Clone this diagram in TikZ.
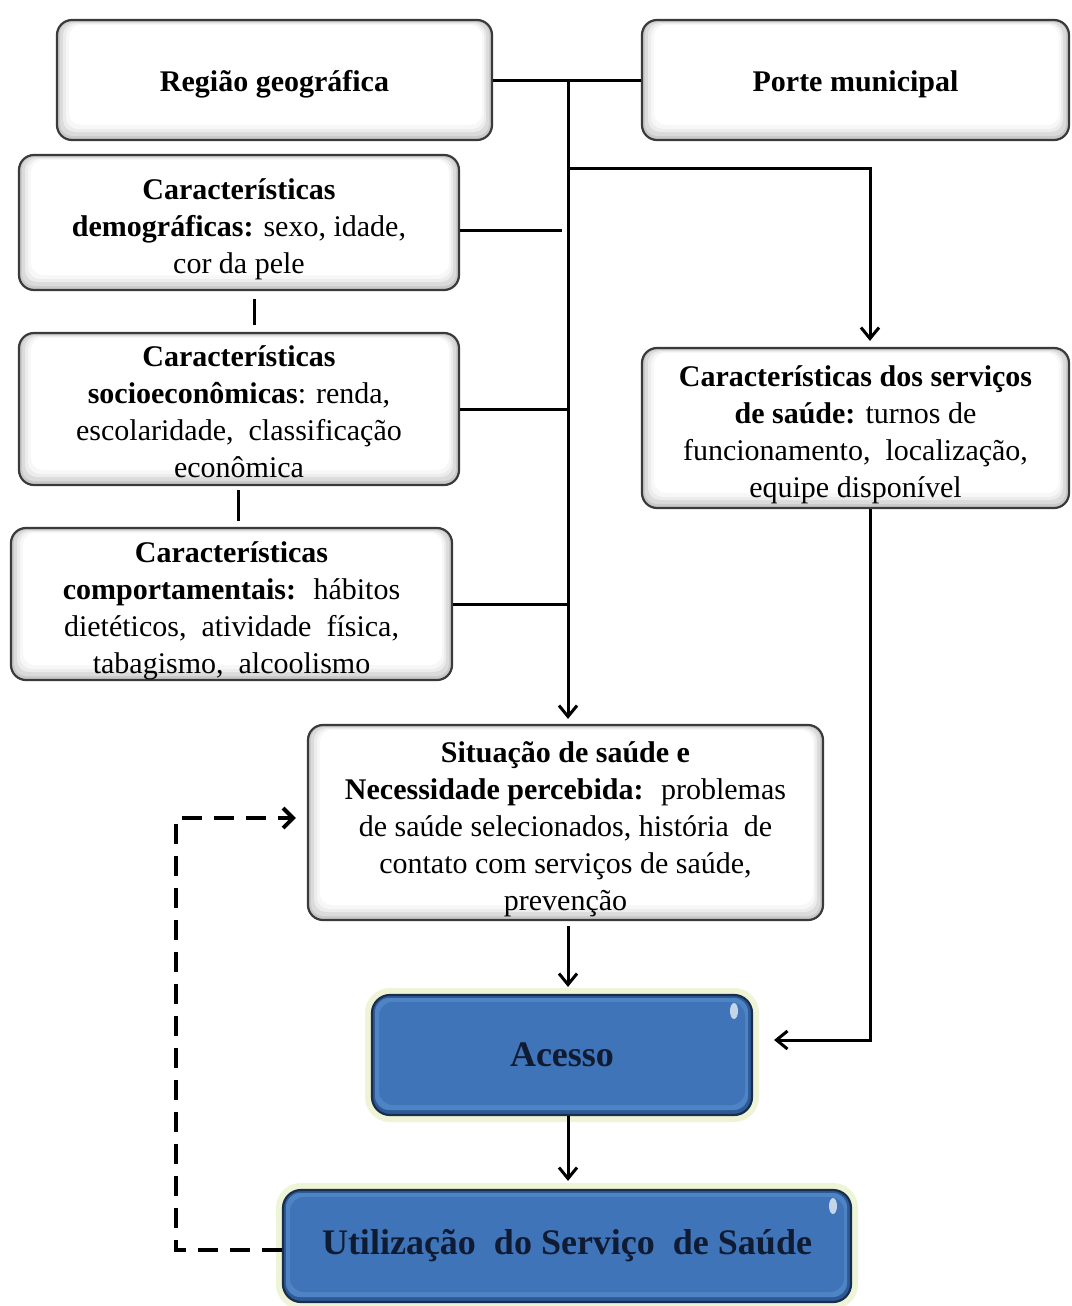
\documentclass[tikz,border=0pt]{standalone}
\usepackage{fontspec}
\setmainfont{Liberation Serif}
\usetikzlibrary{arrows.meta,calc}
\definecolor{bluebox}{HTML}{3F74B8}
\definecolor{bluemid}{HTML}{4E84C4}
\definecolor{bluedark}{HTML}{2C5A96}
\definecolor{blueline}{HTML}{1B2D4A}
\definecolor{bluetext}{HTML}{0F1B33}
\definecolor{glow}{HTML}{EEF4D6}
\definecolor{boxline}{HTML}{3A3A3A}
\newcommand{\fsone}{\rule{0pt}{15pt}}
\newcommand{\fsmulti}{\rule{0pt}{17pt}}
\newcommand{\fslow}{\rule{0pt}{13.5pt}}
\tikzset{
  wbox/.style={draw=boxline, line width=1.1pt, rounded corners=7.5pt, inner sep=0pt, align=center,
    font=\fontsize{15}{18.5}\selectfont,
    path picture={
      \fill[gray!42] (path picture bounding box.south west) rectangle (path picture bounding box.north east);
      \fill[gray!28, rounded corners=6pt] ([shift={(1.5pt,2pt)}]path picture bounding box.south west) rectangle ([shift={(-1.5pt,-1pt)}]path picture bounding box.north east);
      \fill[gray!15, rounded corners=6pt] ([shift={(3pt,4pt)}]path picture bounding box.south west) rectangle ([shift={(-3pt,-1.5pt)}]path picture bounding box.north east);
      \fill[gray!6, rounded corners=6pt] ([shift={(4.5pt,5.5pt)}]path picture bounding box.south west) rectangle ([shift={(-4pt,-2pt)}]path picture bounding box.north east);
      \fill[white, rounded corners=6pt] ([shift={(6pt,7.5pt)}]path picture bounding box.south west) rectangle ([shift={(-5pt,-2.5pt)}]path picture bounding box.north east);
    }},
  bbox/.style={draw=blueline, line width=1.1pt, rounded corners=9pt, inner sep=0pt, align=center,
    text=bluetext, font=\fontsize{18}{22}\selectfont\bfseries,
    preaction={draw=glow, line width=7pt},
    path picture={
      \fill[bluedark] (path picture bounding box.south west) rectangle (path picture bounding box.north east);
      \fill[bluemid, rounded corners=7pt] ([shift={(1.5pt,2.5pt)}]path picture bounding box.south west) rectangle ([shift={(-2pt,-1.5pt)}]path picture bounding box.north east);
      \fill[bluebox, rounded corners=7pt] ([shift={(3.5pt,5pt)}]path picture bounding box.south west) rectangle ([shift={(-3.5pt,-3.5pt)}]path picture bounding box.north east);
      \fill[white, opacity=0.7, rotate around={-40:([shift={(-9pt,-8pt)}]path picture bounding box.north east)}] ([shift={(-9pt,-8pt)}]path picture bounding box.north east) ellipse (2pt and 4pt);
    }},
  conn/.style={line width=1.5pt, black},
  tip/.style={-{Straight Barb[length=5.5pt,width=9pt]}},
  dtip/.style={-{Straight Barb[length=5pt,width=10pt,line width=2pt]}},
}
\begin{document}
\begin{tikzpicture}[x=0.5pt,y=-0.5pt]
\fill[white] (0,0) rectangle (1071,1306);
\useasboundingbox (0,0) rectangle (1071,1306);

\node[wbox, minimum width=217.5pt, minimum height=60pt] (reg) at (274.5,80) {\fsone\textbf{Região geográfica}};
\node[wbox, minimum width=213.5pt, minimum height=60pt] (porte) at (855.5,80) {\fsone\textbf{Porte municipal}};
\node[wbox, minimum width=220pt, minimum height=67.5pt] (demog) at (239,222.5) {\fsmulti\textbf{Características}\\\textbf{demográficas:} sexo, idade,\\cor da pele};
\node[wbox, minimum width=220pt, minimum height=76pt] (socio) at (239,409) {\fslow\textbf{Características}\\\textbf{socioeconômicas}: renda,\\escolaridade,~ classificação\\econômica};
\node[wbox, minimum width=220.5pt, minimum height=76pt] (comp) at (231.5,604) {\fsmulti\textbf{Características}\\\textbf{comportamentais:}~ hábitos\\dietéticos,~ atividade~ física,\\tabagismo,~ alcoolismo};
\node[wbox, minimum width=213.5pt, minimum height=80pt] (serv) at (855.5,428) {\fsmulti\textbf{Características dos serviços}\\\textbf{de saúde:} turnos de\\funcionamento,~ localização,\\equipe disponível};
\node[wbox, minimum width=257.5pt, minimum height=97.5pt] (sit) at (565.5,822.5) {\fsmulti\textbf{Situação de saúde e}\\\textbf{Necessidade percebida:}~ problemas\\de saúde selecionados, história~ de\\contato com serviços de saúde,\\prevenção};
\node[bbox, minimum width=190pt, minimum height=60pt] (aces) at (562,1055) {Acesso};
\node[bbox, minimum width=284pt, minimum height=56pt] (util) at (567,1246) {Utilização~ do Serviço~ de Saúde};

\coordinate (t0) at (568,80);
\coordinate (t1) at (568,168);
\coordinate (b1) at (870,168);
\coordinate (d1) at (562,230);
\coordinate (a1) at (870,1040);
\coordinate (q1) at (176,1250);
\coordinate (q2) at (176,818);

\draw[conn] (reg.east) -- (porte.west);
\draw[conn,tip,shorten >=2.5pt] (t0) -- (t0 |- sit.north);
\draw[conn,tip,shorten >=3pt] (t1) -- (b1) -- (b1 |- serv.north);
\draw[conn] (demog.east |- d1) -- (d1);
\draw[conn] (socio.east) -- (socio.east -| t0);
\draw[conn] (comp.east) -- (comp.east -| t0);
\draw[conn,shorten <=4pt,shorten >=3.5pt] ([xshift=7.5pt]demog.south) -- ([xshift=7.5pt]demog.south |- socio.north);
\draw[conn,shorten <=2pt,shorten >=3pt] ([xshift=-0.5pt]socio.south) -- ([xshift=-0.5pt]socio.south |- comp.north);
\draw[conn,tip,shorten >=10.5pt] (b1 |- serv.south) -- (a1) -- (aces.east |- a1);
\draw[conn,tip,shorten <=2.5pt,shorten >=3.5pt] (t0 |- sit.south) -- (t0 |- aces.north);
\draw[conn,tip,shorten >=4pt] (t0 |- aces.south) -- (t0 |- util.north);
\draw[line width=2pt, dash pattern=on 10pt off 6pt, dtip, shorten >=5.5pt] (util.west |- q1) -- (q1) -- (q2) -- (sit.west |- q2);
\end{tikzpicture}
\end{document}
